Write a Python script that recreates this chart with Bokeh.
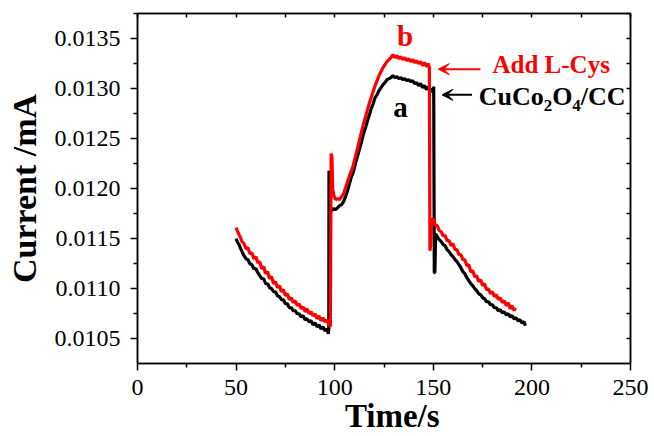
from bokeh.plotting import figure
from bokeh.models import (LinearAxis, FixedTicker, PrintfTickFormatter, Label, Arrow, VeeHead, Range1d,
                          CustomLabelingPolicy)
from bokeh.embed import file_html
from bokeh.resources import INLINE

# ---- data ----
time_a = [50.0, 50.8, 51.5, 52.3, 53.0, 54.0, 55.0, 56.0, 57.0, 58.0, 59.0, 60.0, 61.0, 62.0, 63.0, 64.0,
          65.0, 66.0, 67.0, 68.0, 69.0, 70.0, 71.0, 72.0, 73.0, 74.0, 75.0, 76.0, 77.0, 78.0, 79.0, 80.0,
          81.0, 82.0, 83.0, 84.0, 85.0, 86.0, 87.0, 88.0, 89.0, 90.0, 91.0, 92.0, 93.0, 94.0, 95.0, 96.0,
          96.8, 97.0, 97.1, 97.3, 97.8, 98.5, 99.5, 100.5, 101.5, 102.5, 103.5, 104.5, 105.5, 106.5, 107.5,
          108.5, 109.5, 110.5, 111.5, 112.5, 113.5, 114.5, 115.5, 116.5, 117.5, 118.5, 119.5, 120.5, 121.5,
          122.5, 123.5, 124.5, 125.5, 126.5, 127.5, 128.5, 129.5, 130.5, 131.5, 132.5, 133.5, 134.5, 135.5,
          136.5, 137.5, 138.5, 139.5, 140.5, 141.5, 142.5, 143.5, 144.5, 145.5, 146.5, 147.5, 148.5, 149.5,
          150.0, 150.2, 150.5, 150.8, 151.2, 152.0, 153.0, 154.0, 155.0, 156.0, 157.0, 158.0, 159.0, 160.0,
          161.0, 162.0, 163.0, 164.0, 165.0, 166.0, 167.0, 168.0, 169.0, 170.0, 171.0, 172.0, 173.0, 174.0,
          175.0, 176.0, 177.0, 178.0, 179.0, 180.0, 181.0, 182.0, 183.0, 184.0, 185.0, 186.0, 187.0, 188.0,
          189.0, 190.0, 191.0, 192.0, 193.0, 194.0, 195.0, 196.0, 196.7]
current_a = [0.01150, 0.01146, 0.01144, 0.01140, 0.01137, 0.01133, 0.01130, 0.01129, 0.01125, 0.01124,
             0.01120, 0.01120, 0.01116, 0.01113, 0.01110, 0.01110, 0.01105, 0.01105, 0.01101, 0.01100,
             0.01097, 0.01097, 0.01093, 0.01092, 0.01089, 0.01089, 0.01085, 0.01085, 0.01081, 0.01081,
             0.01078, 0.01078, 0.01075, 0.01075, 0.01072, 0.01073, 0.01069, 0.01070, 0.01067, 0.01068,
             0.01064, 0.01066, 0.01062, 0.01064, 0.01060, 0.01062, 0.01058, 0.01060, 0.01055, 0.01060,
             0.01218, 0.01190, 0.01182, 0.01178, 0.01180, 0.01179, 0.01181, 0.01183, 0.01184, 0.01187,
             0.01192, 0.01198, 0.01205, 0.01212, 0.01217, 0.01225, 0.01232, 0.01239, 0.01246, 0.01254,
             0.01260, 0.01267, 0.01273, 0.01280, 0.01285, 0.01291, 0.01294, 0.01298, 0.01301, 0.01304,
             0.01306, 0.01309, 0.01310, 0.01311, 0.01313, 0.01311, 0.01312, 0.01310, 0.01311, 0.01309,
             0.01310, 0.01308, 0.01309, 0.01307, 0.01308, 0.01305, 0.01306, 0.01303, 0.01305, 0.01301,
             0.01303, 0.01299, 0.01302, 0.01297, 0.01300, 0.01296, 0.01302, 0.01116, 0.01116, 0.01155,
             0.01152, 0.01149, 0.01147, 0.01144, 0.01143, 0.01139, 0.01137, 0.01134, 0.01132, 0.01129,
             0.01127, 0.01124, 0.01121, 0.01117, 0.01115, 0.01111, 0.01108, 0.01105, 0.01103, 0.01100,
             0.01098, 0.01095, 0.01094, 0.01091, 0.01090, 0.01087, 0.01087, 0.01084, 0.01084, 0.01081,
             0.01081, 0.01078, 0.01079, 0.01076, 0.01077, 0.01074, 0.01075, 0.01072, 0.01073, 0.01070,
             0.01071, 0.01068, 0.01069, 0.01066, 0.01067, 0.01063]

time_b = [50.0, 50.8, 51.5, 52.3, 53.0, 54.0, 55.0, 56.0, 57.0, 58.0, 59.0, 60.0, 61.0, 62.0, 63.0, 64.0,
          65.0, 66.0, 67.0, 68.0, 69.0, 70.0, 71.0, 72.0, 73.0, 74.0, 75.0, 76.0, 77.0, 78.0, 79.0, 80.0,
          81.0, 82.0, 83.0, 84.0, 85.0, 86.0, 87.0, 88.0, 89.0, 90.0, 91.0, 92.0, 93.0, 94.0, 95.0, 96.0,
          97.0, 97.8, 98.2, 98.6, 99.0, 99.6, 100.5, 101.5, 102.5, 103.5, 104.5, 105.5, 106.5, 107.5, 108.5,
          109.5, 110.5, 111.5, 112.5, 113.5, 114.5, 115.5, 116.5, 117.5, 118.5, 119.5, 120.5, 121.5, 122.5,
          123.5, 124.5, 125.5, 126.5, 127.5, 128.5, 129.5, 130.5, 131.5, 132.5, 133.5, 134.5, 135.5, 136.5,
          137.5, 138.5, 139.5, 140.5, 141.5, 142.5, 143.5, 144.5, 145.5, 146.5, 147.5, 148.0, 148.3, 148.7,
          149.2, 150.0, 151.0, 152.0, 153.0, 154.0, 155.0, 156.0, 157.0, 158.0, 159.0, 160.0, 161.0, 162.0,
          163.0, 164.0, 165.0, 166.0, 167.0, 168.0, 169.0, 170.0, 171.0, 172.0, 173.0, 174.0, 175.0, 176.0,
          177.0, 178.0, 179.0, 180.0, 181.0, 182.0, 183.0, 184.0, 185.0, 186.0, 187.0, 188.0, 189.0, 190.0,
          191.0, 191.6]
current_b = [0.01161, 0.01157, 0.01154, 0.01151, 0.01147, 0.01145, 0.01140, 0.01141, 0.01135, 0.01136,
             0.01130, 0.01132, 0.01126, 0.01127, 0.01120, 0.01122, 0.01115, 0.01117, 0.01110, 0.01112,
             0.01105, 0.01107, 0.01101, 0.01103, 0.01097, 0.01099, 0.01093, 0.01095, 0.01089, 0.01091,
             0.01086, 0.01088, 0.01083, 0.01085, 0.01080, 0.01082, 0.01077, 0.01080, 0.01075, 0.01077,
             0.01073, 0.01075, 0.01070, 0.01073, 0.01068, 0.01071, 0.01067, 0.01069, 0.01064, 0.01062,
             0.01235, 0.01232, 0.01200, 0.01193, 0.01189, 0.01190, 0.01189, 0.01192, 0.01195, 0.01201,
             0.01207, 0.01213, 0.01218, 0.01224, 0.01232, 0.01240, 0.01248, 0.01256, 0.01264, 0.01271,
             0.01278, 0.01285, 0.01291, 0.01297, 0.01303, 0.01308, 0.01313, 0.01317, 0.01321, 0.01324,
             0.01327, 0.01329, 0.01331, 0.01334, 0.01331, 0.01333, 0.01330, 0.01332, 0.01329, 0.01331,
             0.01328, 0.01330, 0.01327, 0.01329, 0.01326, 0.01328, 0.01325, 0.01327, 0.01323, 0.01326,
             0.01322, 0.01325, 0.01321, 0.01138, 0.01145, 0.01168, 0.01170, 0.01164, 0.01163, 0.01158,
             0.01157, 0.01153, 0.01153, 0.01148, 0.01148, 0.01143, 0.01145, 0.01139, 0.01139, 0.01134,
             0.01134, 0.01129, 0.01129, 0.01123, 0.01124, 0.01117, 0.01118, 0.01112, 0.01113, 0.01107,
             0.01109, 0.01103, 0.01105, 0.01099, 0.01100, 0.01095, 0.01097, 0.01092, 0.01094, 0.01089,
             0.01091, 0.01086, 0.01088, 0.01083, 0.01086, 0.01080, 0.01083, 0.01078, 0.01081]

x_ticks = [0, 50, 100, 150, 200, 250]
x_minor = [25, 75, 125, 175, 225]
y_ticks = [0.0105, 0.0110, 0.0115, 0.0120, 0.0125, 0.0130, 0.0135]
y_minor = [0.01025, 0.01075, 0.01125, 0.01175, 0.01225, 0.01275, 0.01325, 0.01375]

FONT = "Liberation Serif"
X0, X1 = 0, 250
Y0, Y1 = 0.010253, 0.01375
W, H = 650, 436

p = figure(width=W, height=H, output_backend="svg", toolbar_location=None,
           x_range=Range1d(X0, X1), y_range=Range1d(Y0, Y1),
           min_border_left=137, min_border_right=W - 630, min_border_top=13, min_border_bottom=H - 363)
p.grid.visible = False
p.outline_line_color = "black"
p.outline_line_width = 1.5
p.background_fill_color = "white"
p.border_fill_color = "white"

p.line(time_a, current_a, line_color="black", line_width=3.2)
p.line(time_b, current_b, line_color="red", line_width=3.2)

# axes
xa = p.xaxis[0]
ya = p.yaxis[0]
xa.ticker = FixedTicker(ticks=x_ticks, minor_ticks=x_minor)
ya.ticker = FixedTicker(ticks=y_ticks, minor_ticks=y_minor)
xa.formatter = PrintfTickFormatter(format="%d")
ya.formatter = PrintfTickFormatter(format="%.4f")
for ax in (xa, ya):
    ax.axis_line_width = 1.5
    ax.major_tick_line_width = 1.5
    ax.minor_tick_line_width = 1.5
    ax.major_tick_out = 7
    ax.major_tick_in = 0
    ax.minor_tick_out = 4
    ax.minor_tick_in = 0
    ax.major_label_text_font = FONT
    ax.major_label_text_font_size = "24px"
    ax.major_label_text_color = "black"
    ax.axis_line_color = "black"
    ax.axis_label_text_font = FONT
    ax.axis_label_text_font_style = "bold"
    ax.axis_label_text_color = "black"
ya.major_label_standoff = 10
ya.axis_label = "Current /mA"
ya.axis_label_text_font_size = "34px"
ya.axis_label_standoff = 9
xa.major_label_standoff = 9
xa.axis_label = "\u2002Time/s"
xa.axis_label_text_font_size = "33px"
xa.axis_label_standoff = 0

no_labels = CustomLabelingPolicy(code="const a = [...indices]; for (const i of a) indices.unset(i); return indices")
for side in ("above", "right"):
    ax = LinearAxis(
        ticker=FixedTicker(ticks=x_ticks if side == "above" else y_ticks,
                           minor_ticks=x_minor if side == "above" else y_minor),
        major_label_text_font_size="0px", major_label_standoff=0, major_label_policy=no_labels,
        major_tick_in=4, major_tick_out=0, minor_tick_in=4, minor_tick_out=0,
        axis_line_width=1.5, major_tick_line_width=1.5, minor_tick_line_width=1.5)
    p.add_layout(ax, side)

px_per_y = (Y1 - Y0) / 350.3
lift = 10 * px_per_y

# annotations
def lab(x, y, text, color, size, xoff=0, align="left"):
    p.add_layout(Label(x=x, y=y + lift, x_offset=xoff, text=text, text_color=color, text_font=FONT,
                       text_font_size=size, text_font_style="bold", text_align=align,
                       text_baseline="alphabetic"))

lab(135.7, 0.013426, "b", "red", "29px", align="center")
lab(133.4, 0.012711, "a", "black", "29px", align="center")
lab(180.0, 0.013144, "Add L-Cys", "red", "25px")

cy = 0.012817
sub = 9 * px_per_y
lab(173.0, cy, "CuCo", "black", "26px", 0)
lab(173.0, cy - sub, "2", "black", "17px", 65)
lab(173.0, cy, "O", "black", "26px", 73.5)
lab(173.0, cy - sub, "4", "black", "17px", 93.7)
lab(173.0, cy, "/CC", "black", "26px", 102.2)

p.add_layout(Arrow(x_start=173.9, y_start=0.013194, x_end=152.5, y_end=0.013194,
                   line_color="red", line_width=2,
                   end=VeeHead(size=11, line_color="red", fill_color="red", line_width=1)))
p.add_layout(Arrow(x_start=169.6, y_start=0.012937, x_end=154.4, y_end=0.012937,
                   line_color="black", line_width=2,
                   end=VeeHead(size=11, line_color="black", fill_color="black", line_width=1)))

open("out.html", "w").write(file_html(p, INLINE))
